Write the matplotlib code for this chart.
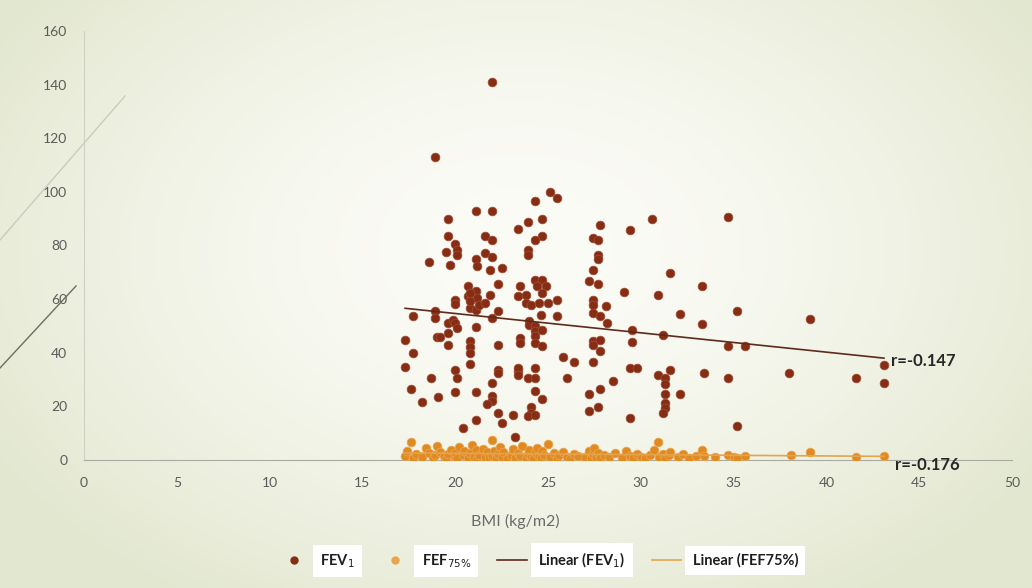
import numpy as np
import matplotlib
matplotlib.use("Agg")
import matplotlib.pyplot as plt
from matplotlib.lines import Line2D

plt.rcParams['font.family'] = ['Lato', 'DejaVu Sans']

# ---------------- data ----------------
fev_bmi = [17.3, 17.3, 17.7, 17.7, 17.6, 18.2, 18.6, 18.7, 18.9, 18.9, 18.9, 19.0, 19.2, 19.1,
           19.6, 19.6, 19.5, 19.7, 20.0, 20.1, 20.1, 19.6, 19.9, 20.0, 20.1, 19.6, 19.6, 20.0,
           20.0, 20.0, 20.1, 20.0, 20.4, 20.8, 20.8, 20.8, 20.7, 21.1, 20.7, 21.2, 21.1, 21.1,
           21.2, 20.8, 21.1, 21.1, 20.8, 21.3, 20.8, 21.1, 21.1, 20.8, 21.6, 22.0, 22.0, 21.6,
           22.0, 21.6, 22.0, 21.9, 21.9, 22.0, 22.0, 22.0, 22.0, 21.7, 22.5, 22.3, 22.3, 22.3,
           22.3, 22.3, 22.3, 22.5, 23.4, 23.5, 23.4, 23.1, 23.2, 23.4, 23.5, 23.5, 23.4, 23.4,
           23.9, 23.9, 23.9, 23.8, 23.8, 24.1, 24.0, 24.0, 23.9, 24.1, 24.1, 23.9, 24.3, 24.7,
           24.7, 24.3, 24.3, 24.7, 24.4, 24.9, 24.7, 24.5, 24.3, 24.3, 24.7, 24.3, 24.3, 24.7,
           24.3, 24.3, 24.3, 24.7, 24.3, 24.6, 25.1, 25.5, 25.0, 25.5, 25.5, 25.8, 26.4, 26.0,
           27.8, 27.4, 27.7, 27.7, 27.7, 27.4, 27.2, 27.7, 27.4, 27.4, 28.1, 27.4, 27.8, 28.2,
           27.4, 27.8, 27.8, 27.4, 27.4, 27.2, 27.8, 27.2, 27.7, 28.5, 29.1, 29.4, 29.5, 29.5,
           29.4, 29.8, 29.4, 30.6, 30.9, 30.9, 31.6, 31.2, 31.6, 31.3, 31.3, 31.3, 32.1, 31.3,
           31.3, 31.2, 32.1, 33.3, 33.3, 33.4, 34.7, 34.7, 35.6, 35.2, 34.7, 35.2, 38.0, 39.1,
           41.6, 43.1, 43.1]
fev_val = [44.6, 34.6, 53.8, 39.9, 26.5, 21.6, 73.9, 30.5, 55.4, 53.0, 113.0, 45.7, 45.7, 23.4,
           90.0, 83.7, 77.6, 72.6, 80.6, 78.5, 76.6, 51.1, 52.3, 51.1, 49.2, 47.3, 43.0, 59.8,
           58.1, 33.6, 30.5, 25.5, 11.8, 44.2, 42.0, 39.9, 64.8, 62.9, 61.3, 60.4, 92.9, 74.8,
           72.3, 56.7, 56.1, 49.6, 59.2, 57.9, 35.8, 25.5, 15.0, 62.3, 58.6, 141.0, 92.9, 83.7,
           81.9, 77.2, 75.8, 70.7, 61.7, 53.0, 28.7, 23.7, 22.0, 20.8, 71.7, 65.8, 55.7, 43.0,
           33.6, 32.6, 17.4, 13.7, 86.0, 64.8, 61.3, 16.8, 8.7, 33.3, 45.5, 43.6, 34.3, 31.8,
           88.7, 78.5, 76.6, 61.7, 58.6, 57.9, 51.7, 50.5, 30.5, 19.7, 17.7, 16.4, 96.7, 90.0,
           83.7, 81.9, 67.3, 67.3, 64.8, 64.8, 62.3, 58.6, 49.8, 48.0, 48.6, 46.1, 43.6, 42.6,
           34.3, 30.5, 25.8, 22.7, 16.8, 54.2, 99.9, 97.9, 58.6, 59.8, 53.8, 38.6, 36.4, 30.5,
           87.8, 82.9, 81.9, 76.6, 74.8, 70.7, 66.7, 65.8, 59.8, 57.7, 57.3, 54.8, 53.6, 51.1,
           44.2, 44.9, 40.5, 43.0, 36.4, 24.6, 26.4, 18.4, 19.7, 29.5, 62.5, 85.7, 48.6, 43.9,
           34.3, 34.3, 15.6, 90.0, 61.7, 31.8, 69.8, 46.7, 33.6, 30.5, 28.4, 24.7, 24.7, 21.2,
           19.3, 17.4, 54.6, 64.8, 50.8, 32.6, 90.6, 42.7, 42.7, 55.7, 30.5, 12.7, 32.6, 52.7,
           30.5, 35.5, 28.7]

fef_bmi = [17.3, 17.4, 17.6, 17.7, 17.9, 18.2, 18.4, 18.6, 18.8, 18.9, 19.0, 19.2, 19.4, 19.5,
           19.6, 19.8, 20.0, 20.0, 20.1, 20.2, 20.4, 20.5, 20.7, 20.8, 20.9, 21.0, 21.1, 21.2,
           21.3, 21.5, 21.6, 21.7, 21.8, 22.0, 22.0, 22.1, 22.2, 22.3, 22.4, 22.5, 22.6, 22.8,
           23.0, 23.1, 23.2, 23.4, 23.5, 23.6, 23.8, 23.9, 24.0, 24.1, 24.2, 24.3, 24.4, 24.5,
           24.6, 24.7, 24.8, 25.0, 25.1, 25.3, 25.5, 25.6, 25.8, 26.0, 26.2, 26.4, 26.6, 27.0,
           27.2, 27.3, 27.4, 27.5, 27.6, 27.7, 27.8, 28.0, 28.3, 28.6, 29.0, 29.2, 29.4, 29.6,
           29.8, 30.0, 30.2, 30.5, 30.7, 30.9, 31.0, 31.2, 31.3, 31.5, 31.6, 32.0, 32.3, 32.6,
           33.0, 33.3, 33.4, 34.0, 34.7, 35.0, 35.2, 35.6, 38.1, 39.1, 41.6, 43.1]
fef_val = [1.5, 3.2, 6.8, 0.8, 2.1, 1.2, 4.5, 2.6, 0.6, 1.9, 5.2, 3.0, 1.4, 0.5,
           2.3, 3.8, 1.1, 2.7, 0.7, 4.9, 1.8, 3.3, 0.9, 2.5, 5.6, 1.3, 3.6, 0.4,
           2.0, 4.2, 1.0, 2.9, 0.6, 7.5, 1.6, 3.4, 0.8, 2.2, 5.0, 1.2, 3.1, 0.5,
           1.9, 4.0, 0.9, 2.6, 1.4, 5.4, 0.7, 2.4, 3.7, 1.1, 0.4, 2.8, 4.6, 1.5,
           0.8, 3.2, 2.0, 5.8, 1.0, 2.5, 0.6, 1.8, 3.0, 1.2, 0.5, 2.2, 1.4, 1.0,
           3.4, 0.7, 2.1, 4.3, 1.3, 2.7, 0.6, 1.8, 1.1, 2.6, 0.8, 3.5, 1.6, 0.9,
           2.3, 1.2, 0.6, 2.0, 3.6, 6.8, 1.0, 2.4, 0.5, 1.7, 3.0, 1.3, 2.2, 0.9,
           1.6, 3.7, 1.5, 1.0, 2.0, 1.3, 0.8, 1.4, 1.9, 3.1, 1.2, 1.5]

x_ticks = [0, 5, 10, 15, 20, 25, 30, 35, 40, 45, 50]
y_ticks = [0, 20, 40, 60, 80, 100, 120, 140, 160]
r_labels = ["r=-0.147", "r=-0.176"]

FEV_C = "#862d14"
FEF_C = "#e08a22"
FEV_LINE = "#5e2a1c"
FEF_LINE = "#e3a44c"
TICK_C = "#5b5b5b"

# ---------------- figure ----------------
W, H = 1032, 588
fig = plt.figure(figsize=(W / 100, H / 100), dpi=100)

# radial gradient background
bg = fig.add_axes([0, 0, 1, 1], zorder=-10)
yy, xx = np.mgrid[0:H, 0:W]
d = np.sqrt(((xx - 520) / 620.0) ** 2 + ((yy - 250) / 420.0) ** 2)
d = np.clip(d, 0, 1) ** 1.6
c0 = np.array([252, 252, 247]) / 255.0
c1 = np.array([226, 231, 207]) / 255.0
img = c0[None, None, :] * (1 - d[..., None]) + c1[None, None, :] * d[..., None]
bg.imshow(img, aspect='auto', extent=[0, 1, 0, 1], origin='upper')
bg.set_axis_off()

# decorative slide lines (top-left)
fig.add_artist(Line2D([0 / W, 125 / W], [1 - 240 / H, 1 - 96 / H], color="#c9cbbd", lw=1.0))
fig.add_artist(Line2D([0 / W, 76 / W], [1 - 368 / H, 1 - 286 / H], color="#6d6d60", lw=1.0))

ax = fig.add_axes([84 / W, (H - 460) / H, (1012 - 84) / W, (460 - 31) / H])
ax.set_facecolor('none')

ax.scatter(fev_bmi, fev_val, s=40, color=FEV_C, edgecolors='#a0503a', linewidths=0.5, zorder=3)
ax.scatter(fef_bmi, fef_val, s=40, color=FEF_C, edgecolors='#eda85a', linewidths=0.5, zorder=3)

# linear trend lines fitted on the data
fx = np.array(fev_bmi); fy = np.array(fev_val)
k1, b1 = np.polyfit(fx, fy, 1)
xs1 = np.array([fx.min(), fx.max()])
ax.plot(xs1, k1 * xs1 + b1, color=FEV_LINE, lw=1.2, zorder=4)
gx = np.array(fef_bmi); gy = np.array(fef_val)
k2, b2 = np.polyfit(gx, gy, 1)
xs2 = np.array([gx.min(), gx.max()])
ax.plot(xs2, k2 * xs2 + b2, color=FEF_LINE, lw=1.2, zorder=4)

ax.text(xs1[1] + 0.4, k1 * xs1[1] + b1 - 1, r_labels[0], fontsize=12, color="#262626",
        va='center', ha='left', fontweight='bold')
ax.text(xs2[1] + 0.6, -1.8, r_labels[1], fontsize=12, color="#262626",
        va='center', ha='left', fontweight='bold')

ax.set_xlim(0, 50)
ax.set_ylim(0, 160)
ax.set_xticks(x_ticks)
ax.set_yticks(y_ticks)
ax.tick_params(length=0, labelsize=10, labelcolor=TICK_C, pad=12)
for s in ['top', 'right']:
    ax.spines[s].set_visible(False)
ax.spines['left'].set_color('#cfd0c6')
ax.spines['bottom'].set_color('#a9aaa2')
ax.spines['bottom'].set_bounds(0, 50)

fig.text(515 / W, 1 - 521 / H, "BMI (kg/m2)", fontsize=11.5, color="#6a6a6a", ha='center', va='center')

handles = [
    Line2D([], [], ls='none', marker='o', markersize=5, color=FEV_C),
    Line2D([], [], ls='none', marker='o', markersize=5, color="#e6a650"),
    Line2D([], [], color=FEV_LINE, lw=1.2),
    Line2D([], [], color=FEF_LINE, lw=1.2),
]
labels = [r"FEV$_1$", r"FEF$_{75\%}$", r"Linear (FEV$_1$)", "Linear (FEF75%)"]
leg = fig.legend(handles, labels, loc='center', bbox_to_anchor=(0.522, 1 - 560 / H),
                 ncol=4, frameon=False, fontsize=10.5, handlelength=2.0, columnspacing=1.8,
                 handletextpad=0.8)
for t in leg.get_texts():
    t.set_color("#1e1e1e")
    t.set_fontweight('bold')
    t.set_bbox(dict(facecolor='white', edgecolor='none', boxstyle='square,pad=0.5'))

fig.savefig("out.png", dpi=100)
